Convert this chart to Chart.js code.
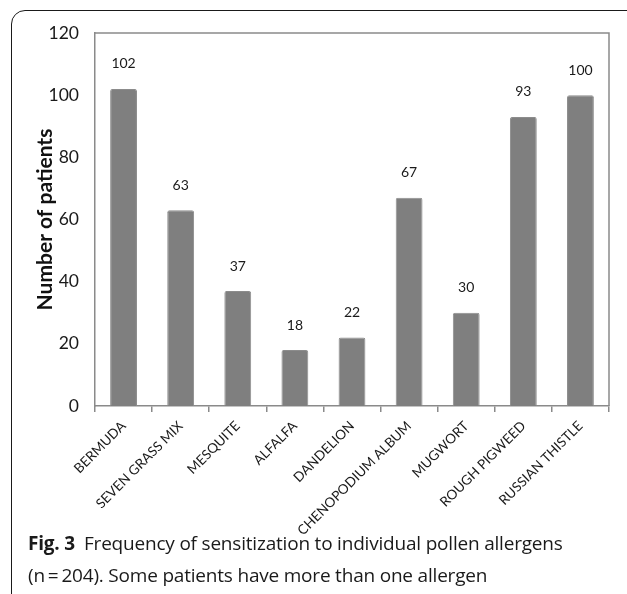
<!DOCTYPE html>
<html>
<head>
<meta charset="utf-8">
<script src="https://cdn.jsdelivr.net/npm/chart.js@4.4.1/dist/chart.umd.min.js"></script>
<style>
  html, body { margin: 0; padding: 0; background: #fff; }
  body { width: 627px; height: 594px; position: relative; overflow: hidden; }
  .frame {
    position: absolute; left: 11px; top: 10px; width: 640px; height: 620px;
    border: 1.6px solid #1a1a1a; border-radius: 14px; box-sizing: border-box;
  }
  .plot { position: absolute; left: 0; top: 0; width: 627px; height: 594px; }
  .caption {
    position: absolute; left: 28px; top: 527px; width: 595px;
    font-family: "Open Sans", "Noto Sans", sans-serif; font-size: 19px;
    line-height: 32px; color: #1a1a1a; letter-spacing: -0.2px;
  }
  .caption b { font-weight: 700; margin-right: 9px; }
</style>
</head>
<body>
<div class="frame"></div>
<div class="plot"><canvas id="chart"></canvas></div>
<div class="caption"><b>Fig. 3</b>Frequency of sensitization to individual pollen allergens<br>(n&#8201;=&#8201;204). Some patients have more than one allergen</div>
<script>
const categories = ["BERMUDA", "SEVEN GRASS MIX", "MESQUITE", "ALFALFA", "DANDELION",
  "CHENOPODIUM ALBUM", "MUGWORT", "ROUGH PIGWEED", "RUSSIAN THISTLE"];
const patients = [102, 63, 37, 18, 22, 67, 30, 93, 100];
const yTicks = [0, 20, 40, 60, 80, 100, 120];

const axisGray = "#8a8a8a";

// frame the top and right sides of the plot area
const plotBox = {
  id: "plotBox",
  afterDraw(chart) {
    const { ctx, chartArea: a } = chart;
    ctx.save();
    ctx.strokeStyle = axisGray;
    ctx.lineWidth = 1.5;
    ctx.beginPath();
    ctx.moveTo(a.left, a.top);
    ctx.lineTo(a.right, a.top);
    ctx.lineTo(a.right, a.bottom);
    ctx.stroke();
    ctx.restore();
  }
};

// value printed above each bar
const valueLabels = {
  id: "valueLabels",
  afterDatasetsDraw(chart) {
    const { ctx } = chart;
    const meta = chart.getDatasetMeta(0);
    ctx.save();
    ctx.font = "14px Lato, 'Open Sans', sans-serif";
    ctx.fillStyle = "#1a1a1a";
    ctx.textAlign = "center";
    ctx.textBaseline = "middle";
    meta.data.forEach((bar, i) => {
      ctx.fillText(String(patients[i]), bar.x, bar.y - 25);
    });
    ctx.restore();
  }
};

new Chart(document.getElementById("chart"), {
  type: "bar",
  data: {
    labels: categories,
    datasets: [{
      data: patients,
      backgroundColor: "#7f7f7f",
      borderColor: "#8c8c8c",
      borderWidth: 1,
      borderRadius: 2,
      borderSkipped: "bottom",
      barPercentage: 0.94,
      categoryPercentage: 0.5
    }]
  },
  options: {
    responsive: true,
    maintainAspectRatio: false,
    animation: false,
    devicePixelRatio: 1,
    layout: { padding: { top: 33, right: 18, left: 33, bottom: 0 } },
    plugins: { legend: { display: false }, tooltip: { enabled: false } },
    scales: {
      x: {
        offset: true,
        grid: { display: true, drawOnChartArea: false, offset: true, tickLength: 6, color: axisGray, lineWidth: 1.5 },
        border: { display: true, color: axisGray, width: 1.5 },
        ticks: {
          minRotation: 45, maxRotation: 45, padding: 6, autoSkip: false,
          color: "#1a1a1a", font: { family: "Lato, 'Open Sans', sans-serif", size: 13.5 }
        },
        afterFit(scale) { scale.height = 188; }
      },
      y: {
        min: 0, max: 120,
        afterBuildTicks(scale) { scale.ticks = yTicks.map(v => ({ value: v })); },
        grid: { display: false },
        border: { display: true, color: axisGray, width: 1.5 },
        ticks: {
          padding: 8, color: "#1a1a1a",
          font: { family: "Lato, 'Open Sans', sans-serif", size: 17.5 }
        },
        title: {
          display: true, text: "Number of patients", color: "#111",
          font: { family: "Lato, 'Open Sans', sans-serif", size: 21, weight: "bold" },
          padding: { top: 0, bottom: 0 }
        },
        afterFit(scale) { scale.width = 62; }
      }
    }
  },
  plugins: [plotBox, valueLabels]
});
</script>
</body>
</html>
